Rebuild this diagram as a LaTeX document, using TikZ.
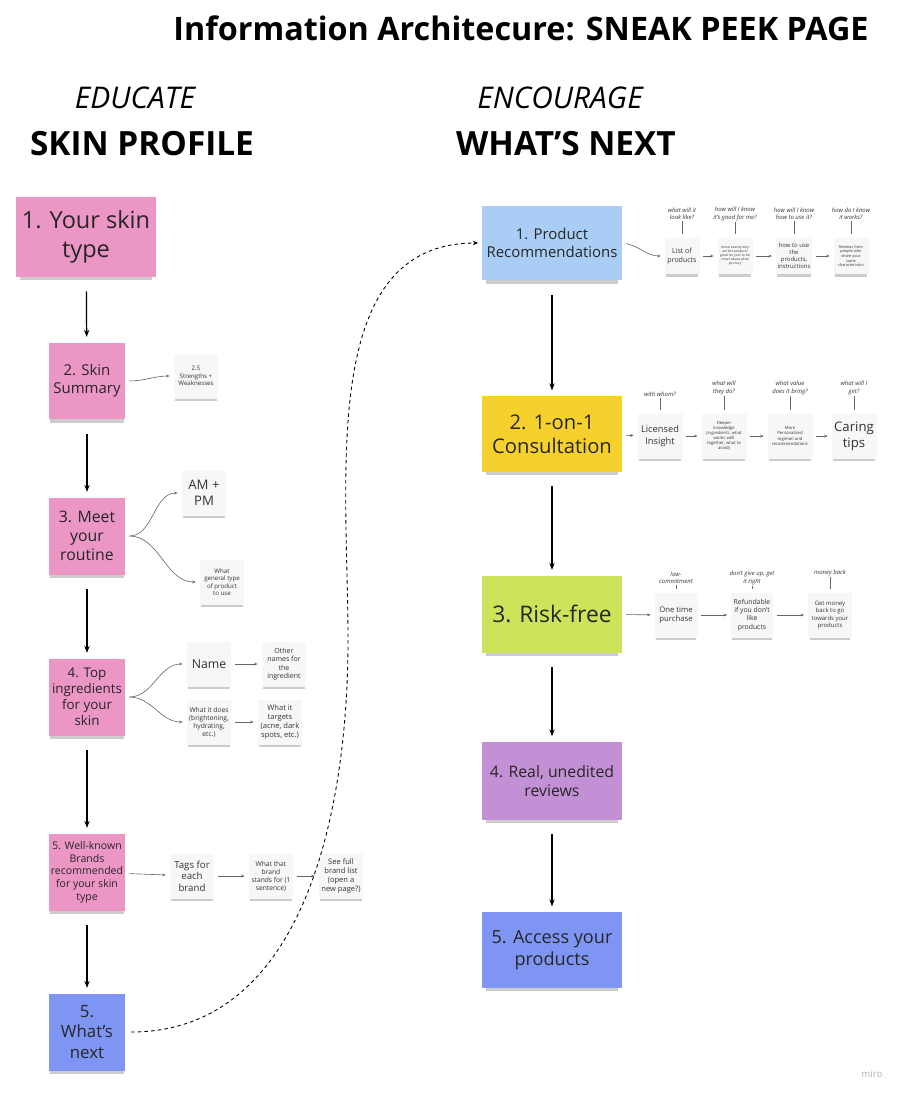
\documentclass[tikz,border=0pt]{standalone}
\usepackage{fontspec}
\setmainfont{Open Sans}
\usetikzlibrary{arrows.meta,positioning,shadows}
\definecolor{stpink}{HTML}{EC96C6}
\definecolor{stlblue}{HTML}{A9CDF5}
\definecolor{styellow}{HTML}{F6D12E}
\definecolor{stgreen}{HTML}{CCE35A}
\definecolor{stpurple}{HTML}{C390D6}
\definecolor{stblue}{HTML}{7F95F3}
\newcommand{\fs}[1]{\fontsize{#1}{\fpeval{1.2*#1}}\selectfont}

\begin{document}
\begin{tikzpicture}[x=0.02cm, y=-0.02cm,
    sticky/.style={minimum width=1.54cm, minimum height=1.54cm, align=center, inner sep=1pt, text=black!85, drop shadow={shadow xshift=0pt, shadow yshift=-3pt, shadow scale=0.95, opacity=0.4}},
    note/.style={fill=black!3, minimum width=0.9cm, minimum height=0.9cm, align=center, inner sep=1pt, text=black!80, drop shadow={shadow xshift=0pt, shadow yshift=-2.5pt, shadow scale=0.93, opacity=0.4}},
    snote/.style={note, minimum width=0.7cm, minimum height=0.72cm},
    ques/.style={align=center, font=\itshape\fs{3.4}, inner sep=0.5pt, text=black!80},
    head/.style={font=\bfseries\fs{19}},
    sub/.style={font=\itshape\fs{17}},
    arr/.style={-{Stealth[length=4pt, width=3pt]}, line width=0.7pt, shorten <=8pt, shorten >=3pt},
    sarr/.style={-{Stealth[length=2pt, width=1.6pt]}, line width=0.35pt, black!60, shorten <=2pt, shorten >=2pt},
    tick/.style={line width=0.4pt, black!60, shorten >=2pt},
    dasharr/.style={-{Stealth[length=3pt, width=2.5pt]}, dash pattern=on 2pt off 1.8pt, line width=0.5pt, shorten <=3pt, shorten >=2pt}
]
\useasboundingbox (0,0) rectangle (909,1099);

\node[head, font=\bfseries\fs{18.4}] (title) at (521,28) {Information Architecure: SNEAK PEEK PAGE};
\node[sub] (educate) at (135,98) {EDUCATE};
\node[head] (skinprof) at (142,144) {SKIN PROFILE};
\node[sub] (encourage) at (560,98) {ENCOURAGE};
\node[head] (whatsnext) at (566,144) {WHAT'S NEXT};

% left column
\node[sticky, fill=stpink, minimum width=2.8cm, minimum height=1.6cm, font=\fs{13.4}] (skintype) at (86,237) {1. Your skin\\type};
\node[sticky, fill=stpink, font=\fs{8.5}] (summary) at (87,381) {2. Skin\\Summary};
\node[sticky, fill=stpink, font=\fs{9}] (routine) at (87,536) {3. Meet\\your\\routine};
\node[sticky, fill=stpink, font=\fs{7.6}] (ingred) at (87,697) {4. Top\\ingredients\\for your\\skin};
\node[sticky, fill=stpink, font=\fs{6}] (brands) at (87,872) {5. Well-known\\Brands\\recommended\\for your skin\\type};
\node[sticky, fill=stblue, font=\fs{9.6}] (next) at (87,1032) {5.\\What's\\next};

\draw[arr] (skintype) -- (summary);
\draw[arr] (summary) -- (routine);
\draw[arr] (routine) -- (ingred);
\draw[arr] (ingred) -- (brands);
\draw[arr] (brands) -- (next);

\node[note, font=\fs{3.5}] (strength) at (196,376) {2.5\\Strengths +\\Weaknesses};
\node[note, font=\fs{7.5}] (ampm) at (204,493) {AM +\\PM};
\node[note, font=\fs{3.5}] (gentype) at (222,582) {What\\general type\\of product\\to use};
\node[note, font=\fs{7}] (name) at (209,664) {Name};
\node[note, font=\fs{4}] (othernm) at (284,664) {Other\\names for\\the\\ingredient};
\node[note, font=\fs{3.8}] (doesit) at (209,722) {What it does\\(brightening,\\hydrating,\\etc.)};
\node[note, font=\fs{4.3}] (targets) at (280,722) {What it\\targets\\(acne, dark\\spots, etc.)};
\node[note, font=\fs{5.5}] (tags) at (192,876) {Tags for\\each\\brand};
\node[note, font=\fs{3.8}] (stands) at (271,876) {What that\\brand\\stands for (1\\sentence)};
\node[note, font=\fs{4.3}] (fulllist) at (341,876) {See full\\brand list\\(open a\\new page?)};

\draw[sarr] (summary.east) to[out=0, in=180] (strength.west);
\draw[sarr] (routine.east) to[out=0, in=180] (ampm.west);
\draw[sarr] (routine.east) to[out=0, in=180] (gentype.west);
\draw[sarr] (ingred.east) to[out=0, in=180] (name.west);
\draw[sarr] (ingred.east) to[out=0, in=180] (doesit.west);
\draw[sarr] (name) -- (othernm);
\draw[sarr] (doesit) -- (targets);
\draw[sarr] (brands) -- (tags);
\draw[sarr] (tags) -- (stands);
\draw[sarr] (stands) -- (fulllist);

% right column
\node[sticky, fill=stlblue, minimum width=2.8cm, minimum height=1.5cm, font=\fs{8.5}] (prodrec) at (552,243) {1. Product\\Recommendations};
\node[sticky, fill=styellow, minimum width=2.8cm, minimum height=1.52cm, font=\fs{11.5}] (consult) at (552,434) {2. 1-on-1\\Consultation};
\node[sticky, fill=stgreen, minimum width=2.8cm, minimum height=1.54cm, font=\fs{13}] (riskfree) at (552,614) {3. Risk-free};
\node[sticky, fill=stpurple, minimum width=2.8cm, minimum height=1.56cm, font=\fs{9}] (reviews) at (552,781) {4. Real, unedited\\reviews};
\node[sticky, fill=stblue, minimum width=2.8cm, minimum height=1.52cm, font=\fs{10.3}] (access) at (552,950) {5. Access your\\products};

\draw[arr] (prodrec) -- (consult);
\draw[arr] (consult) -- (riskfree);
\draw[arr] (riskfree) -- (reviews);
\draw[arr] (reviews) -- (access);

\coordinate (bend) at (348,640);
\draw[dasharr] (next.east) to[out=0, in=-90] (bend) to[out=90, in=180] (prodrec.west);

% row 1
\node[snote, font=\fs{4}] (listprod) at (682,256) {List of\\products};
\node[snote, font=\fs{1.9}] (goodfor) at (735,256) {Know exactly why\\are the products\\good for you! to be\\smart about what\\you buy};
\node[snote, font=\fs{3.4}] (howuse) at (794,256) {how to use\\the\\products,\\instructions};
\node[snote, font=\fs{2.2}] (revfrom) at (851,256) {Reviews from\\people who\\share your\\same\\characteristics};
\node[ques] (q11) at (682,214) {what will it\\look like?};
\node[ques] (q12) at (735,214) {how will I know\\it's good for me?};
\node[ques] (q13) at (794,214) {how will I know\\how to use it?};
\node[ques] (q14) at (851,214) {how do I know\\it works?};
\foreach \q/\b in {q11/listprod, q12/goodfor, q13/howuse, q14/revfrom}
  \draw[tick] (\q.south) -- (\b.north);
\draw[sarr] (prodrec.east) to[out=-10, in=180] (listprod.west);
\draw[sarr] (listprod) -- (goodfor);
\draw[sarr] (goodfor) -- (howuse);
\draw[sarr] (howuse) -- (revfrom);

% row 2
\node[note, font=\fs{5.3}] (licensed) at (660,436) {Licensed\\Insight};
\node[note, font=\fs{2.4}] (deeper) at (724,436) {Deeper\\knowledge\\(ingredients, what\\works well\\together, what to\\avoid)};
\node[note, font=\fs{2.4}] (morepers) at (790,436) {More\\Personalized\\regimen and\\recommendations};
\node[note, font=\fs{7.5}] (caring) at (854,436) {Caring\\tips};
\node[ques] (q21) at (660,394) {with whom?};
\node[ques] (q22) at (724,388) {what will\\they do?};
\node[ques] (q23) at (790,388) {what value\\does it bring?};
\node[ques] (q24) at (854,388) {what will I\\get?};
\foreach \q/\b in {q21/licensed, q22/deeper, q23/morepers, q24/caring}
  \draw[tick] (\q.south) -- (\b.north);
\draw[sarr] (consult) -- (licensed);
\draw[sarr] (licensed) -- (deeper);
\draw[sarr] (deeper) -- (morepers);
\draw[sarr] (morepers) -- (caring);

% row 3
\node[note, minimum width=0.86cm, font=\fs{4.4}] (onetime) at (676,615) {One time\\purchase};
\node[note, minimum width=0.84cm, font=\fs{3.9}] (refund) at (752,615) {Refundable\\if you don't\\like\\products};
\node[note, minimum width=0.88cm, font=\fs{3.4}] (getmoney) at (830,615) {Get money\\back to go\\towards your\\products};
\node[ques] (q31) at (676,578) {low-\\commitment};
\node[ques] (q32) at (752,578) {don't give up, get\\it right};
\node[ques] (q33) at (830,573) {money back};
\foreach \q/\b in {q31/onetime, q32/refund, q33/getmoney}
  \draw[tick] (\q.south) -- (\b.north);
\draw[sarr] (riskfree) -- (onetime);
\draw[sarr] (onetime) -- (refund);
\draw[sarr] (refund) -- (getmoney);

\node[font=\fs{5.5}, text=black!30] (miro) at (872,1074) {miro};
\end{tikzpicture}
\end{document}
